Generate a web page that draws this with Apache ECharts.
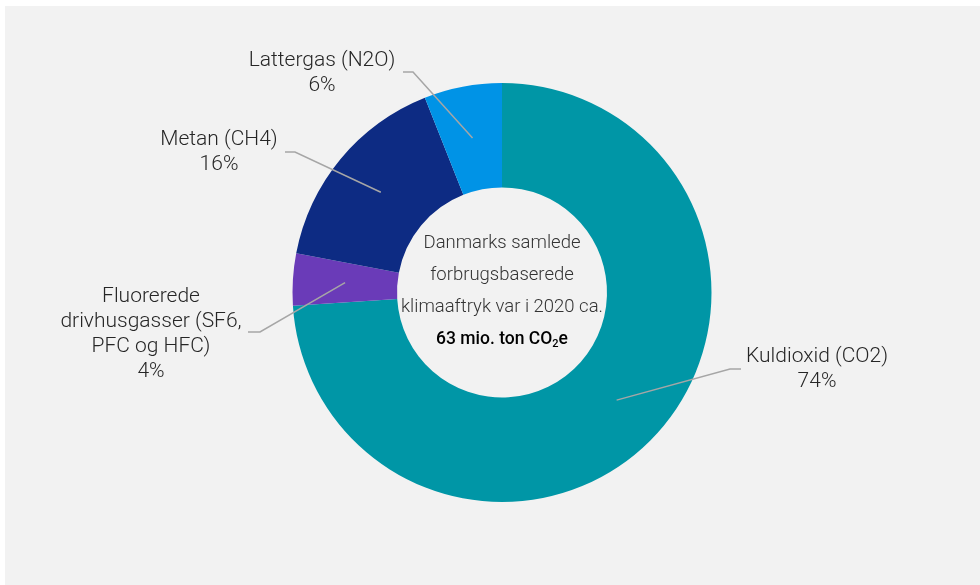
<!DOCTYPE html>
<html>
<head>
<meta charset="utf-8">
<script src="https://cdn.jsdelivr.net/npm/echarts@6/dist/echarts.min.js"></script>
<style>
  html, body { margin: 0; padding: 0; background: #ffffff; }
  #chart { width: 980px; height: 585px; }
</style>
</head>
<body>
<div id="chart"></div>
<script>
// Greenhouse gas shares of Denmark's consumption-based climate footprint, 2020 (%)
const gasNames = [
  'Kuldioxid (CO2)',
  'Fluorerede\ndrivhusgasser (SF6,\nPFC og HFC)',
  'Metan (CH4)',
  'Lattergas (N2O)'
];
const gasShares = [74, 4, 16, 6];
const gasColors = ['#0096a6', '#6a3bb8', '#0d2b83', '#0093e6'];

const centerLines = ['Danmarks samlede', 'forbrugsbaserede', 'klimaaftryk var i 2020 ca.'];
const totalText = ['63 mio. ton CO', '2', 'e'];

// Layout of the donut
const cx = 502, cy = 292.5;
const rInner = 105, rOuter = 209.5;
const rAnchor = (rInner + rOuter) / 2;

// Callout layout per slice: elbow point, line end x, label centre
const callouts = [
  { elbow: [730, 369], endX: 741, label: [817, 369] },
  { elbow: [260, 332], endX: 248, label: [151, 334] },
  { elbow: [295, 152], endX: 285, label: [219, 152] },
  { elbow: [413, 72],  endX: 403, label: [322, 73] }
];

const total = gasShares.reduce((a, b) => a + b, 0);
function anchorPoint(i) {
  let before = 0;
  for (let k = 0; k < i; k++) before += gasShares[k];
  const ang = (before + gasShares[i] / 2) / total * 2 * Math.PI; // clockwise from top
  return [cx + rAnchor * Math.sin(ang), cy - rAnchor * Math.cos(ang)];
}

const pieData = gasNames.map((n, i) => ({ name: n, value: gasShares[i] }));

const chart = echarts.init(document.getElementById('chart'), null, { renderer: 'canvas' });

chart.setOption({
  backgroundColor: '#ffffff',
  animation: false,
  graphic: [
    {
      type: 'rect', z: -10, silent: true,
      shape: { x: 5, y: 6, width: 975, height: 579 },
      style: { fill: '#f2f2f2' }
    },
    {
      type: 'text', z: 100, silent: true,
      x: cx, y: cy - 1,
      style: {
        text: centerLines.map(t => '{a|' + t + '}').join('\n') + '\n' +
              '{b|' + totalText[0] + '}{s|' + totalText[1] + '}{b|' + totalText[2] + '}',
        align: 'center',
        verticalAlign: 'middle',
        rich: {
          a: { fontFamily: 'Roboto', fontSize: 18.5, fontWeight: 300, fill: '#333333', lineHeight: 32 },
          b: { fontFamily: 'Roboto', fontSize: 17.5, fontWeight: 500, fill: '#000000', lineHeight: 32 },
          // subscript: padding on top pushes the digit below the baseline
          s: { fontFamily: 'Roboto', fontSize: 11, fontWeight: 500, fill: '#000000', lineHeight: 14, padding: [10, 0, 0, 0] }
        }
      }
    }
  ],
  series: [
    {
      // coloured ring
      type: 'pie',
      z: 2,
      center: [cx, cy],
      radius: [rInner, rOuter],
      startAngle: 90,
      clockwise: true,
      silent: true,
      itemStyle: { borderWidth: 0 },
      data: pieData.map((d, i) => ({ name: d.name, value: d.value, itemStyle: { color: gasColors[i] } })),
      label: { show: false },
      labelLine: { show: false }
    },
    {
      // transparent copy on top, carrying the callout labels and leader lines
      type: 'pie',
      z: 5,
      center: [cx, cy],
      radius: [rInner, rOuter],
      startAngle: 90,
      clockwise: true,
      silent: true,
      itemStyle: { color: 'rgba(0,0,0,0)', borderWidth: 0 },
      data: pieData,
      label: {
        show: true,
        position: 'outside',
        formatter: '{b}\n{c}%',
        fontFamily: 'Roboto',
        fontSize: 21,
        fontWeight: 300,
        lineHeight: 25,
        color: '#262626',
        align: 'center'
      },
      labelLine: {
        show: true,
        lineStyle: { color: '#a6a6a6', width: 1.5 }
      },
      labelLayout: function (params) {
        const i = params.dataIndex;
        const c = callouts[i];
        const a = anchorPoint(i);
        return {
          x: c.label[0],
          y: c.label[1],
          align: 'center',
          verticalAlign: 'middle',
          labelLinePoints: [a, c.elbow, [c.endX, c.elbow[1]]]
        };
      }
    }
  ]
});
</script>
</body>
</html>
